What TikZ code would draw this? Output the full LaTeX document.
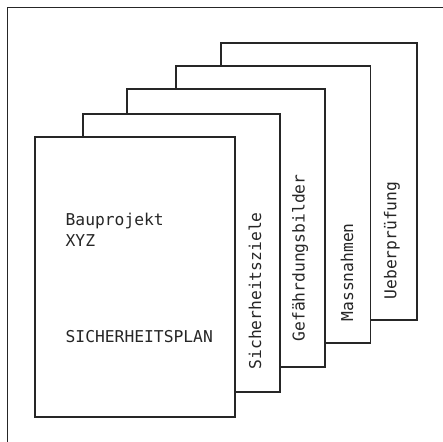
\documentclass[tikz,border=0pt]{standalone}
\usepackage{fontspec}
\setmonofont{DejaVu Sans Mono}
\usepackage{tikz}
\usetikzlibrary{positioning}

\begin{document}
\begin{tikzpicture}[line width=1.3pt, draw=black!85,
    page/.style={draw=black!85, fill=white, rectangle, inner sep=0pt},
    txt/.style={font=\fontsize{16.3}{21}\selectfont\ttfamily, text=black!85, inner sep=0pt},
    tab/.style={txt, rotate=90, anchor=west}]
    \useasboundingbox (0,0) rectangle (15.57,15.50);
    \clip (0,0) rectangle (15.57,15.50);

    % Rahmen
    \draw[line width=1.5pt, black!85] (0.264,-1) rectangle (16.5,15.237);

    % Register (von hinten nach vorne)
    \node[page, minimum width=6.89cm, minimum height=9.74cm] (p5) at (11.21,9.12) {};
    \node[page, minimum width=6.82cm, minimum height=9.74cm] (p4) at (9.60,8.31) {};
    \node[page, minimum width=6.96cm, minimum height=9.77cm] (p3) at (7.94,7.49) {};
    \node[page, minimum width=6.92cm, minimum height=9.77cm] (p2) at (6.38,6.61) {};
    \node[page, minimum width=7.03cm, minimum height=9.84cm] (p1) at (4.745,5.765) {};

    % Deckblatt
    \node[txt, anchor=base west] (projekt) at (2.285,7.557) {Bauprojekt};
    \node[txt, anchor=base west] (xyz) at (2.285,6.82) {XYZ};
    \node[txt, anchor=base west] (plan) at (2.285,3.445) {SICHERHEITSPLAN};

    % Beschriftung der Register
    \node[tab] (ziele) at (8.963,2.496) {Sicherheitsziele};
    \node[tab] (bilder) at (10.545,3.48) {Gefährdungsbilder};
    \node[tab] (massn) at (12.197,4.183) {Massnahmen};
    \node[tab] (pruef) at (13.779,4.956) {Ueberprüfung};
\end{tikzpicture}
\end{document}
